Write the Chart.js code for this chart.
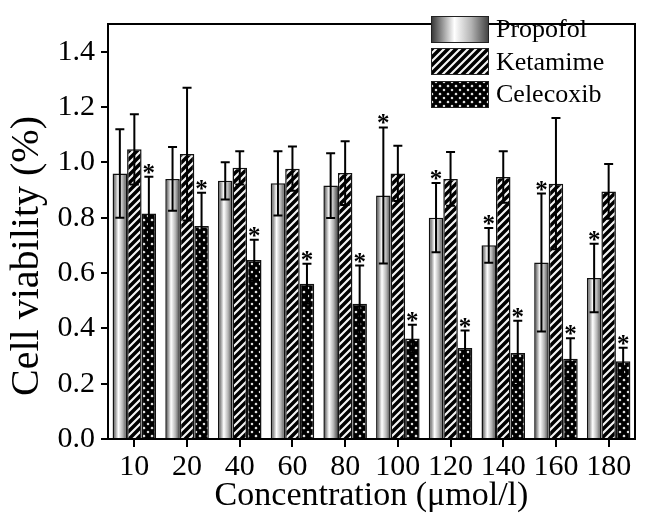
<!DOCTYPE html>
<html>
<head>
<meta charset="utf-8">
<script src="https://cdn.jsdelivr.net/npm/chart.js@4.4.0/dist/chart.umd.min.js"></script>
<style>
  body { margin: 0; background: #fff; }
  #wrap { position: relative; width: 646px; height: 525px; }
  #legend {
    position: absolute; left: 431px; top: 13px;
    font-family: "Liberation Serif", "Times New Roman", serif; font-size: 26px; color: #000;
  }
  .row { display: flex; align-items: center; height: 32.5px; }
  .row canvas { border: 1.5px solid #222; margin-right: 7px; display: block; }
</style>
</head>
<body>
<div id="wrap">
  <canvas id="chart" width="646" height="525"></canvas>
  <div id="legend"></div>
</div>
<script>
const concentrations = ["10", "20", "40", "60", "80", "100", "120", "140", "160", "180"];
const propofolMean = [0.96, 0.94, 0.933, 0.924, 0.916, 0.88, 0.80, 0.70, 0.638, 0.582];
const propofolSd = [0.16, 0.115, 0.067, 0.116, 0.117, 0.246, 0.125, 0.063, 0.249, 0.124];
const ketamimeMean = [1.047, 1.03, 0.98, 0.977, 0.961, 0.96, 0.94, 0.947, 0.923, 0.895];
const ketamimeSd = [0.127, 0.24, 0.06, 0.08, 0.115, 0.10, 0.097, 0.093, 0.237, 0.099];
const celecoxibMean = [0.815, 0.77, 0.647, 0.561, 0.489, 0.363, 0.329, 0.311, 0.29, 0.281];
const celecoxibSd = [0.133, 0.12, 0.073, 0.072, 0.138, 0.05, 0.063, 0.116, 0.074, 0.049];
const propofolStar = [false, false, false, false, false, true, true, true, true, true];
const ketamimeStar = [false, false, false, false, false, false, false, false, false, false];
const celecoxibStar = [true, true, true, true, true, true, true, true, true, true];
const yTicks = [0, 0.2, 0.4, 0.6, 0.8, 1.0, 1.2, 1.4];

const serif = '"Liberation Serif", "Times New Roman", serif';
const catPct = 0.826;
const scratch = document.createElement("canvas").getContext("2d");

function shadeGradient(g, x0, x1) {
  const grad = g.createLinearGradient(x0, 0, x1, 0);
  grad.addColorStop(0, "#3a3a3a");
  grad.addColorStop(0.4, "#ffffff");
  grad.addColorStop(0.7, "#b4b4b4");
  grad.addColorStop(1, "#454545");
  return grad;
}

function stripePattern() {
  const tile = document.createElement("canvas");
  tile.width = 8;
  tile.height = 8;
  const g = tile.getContext("2d");
  g.fillStyle = "#f4f4f4";
  g.fillRect(0, 0, 8, 8);
  g.strokeStyle = "#000";
  g.lineWidth = 3.5;
  g.beginPath();
  g.moveTo(-2, 10); g.lineTo(10, -2);
  g.moveTo(-2, 2); g.lineTo(2, -2);
  g.moveTo(6, 10); g.lineTo(10, 6);
  g.stroke();
  return scratch.createPattern(tile, "repeat");
}

function crossPattern() {
  const tile = document.createElement("canvas");
  tile.width = 8;
  tile.height = 8;
  const g = tile.getContext("2d");
  g.fillStyle = "#fff";
  g.fillRect(0, 0, 8, 8);
  g.strokeStyle = "#000";
  g.lineWidth = 3.6;
  g.beginPath();
  g.moveTo(-1, -1); g.lineTo(9, 9);
  g.moveTo(9, -1); g.lineTo(-1, 9);
  g.stroke();
  return scratch.createPattern(tile, "repeat");
}

const stripes = stripePattern();
const crosses = crossPattern();

function propofolFill(ctx) {
  const xs = ctx.chart.scales.x;
  if (ctx.type !== "data" || !xs) return "#bbb";
  const slot = (xs.width / concentrations.length) * catPct / 3;
  const centre = xs.getPixelForValue(ctx.dataIndex) - slot;
  if (!Number.isFinite(centre) || !(slot > 0)) return "#bbb";
  return shadeGradient(ctx.chart.ctx, centre - slot / 2, centre + slot / 2);
}

const means = [propofolMean, ketamimeMean, celecoxibMean];
const sds = [propofolSd, ketamimeSd, celecoxibSd];
const stars = [propofolStar, ketamimeStar, celecoxibStar];

const errorBars = {
  id: "errorBars",
  afterDatasetsDraw(chart) {
    const g = chart.ctx;
    const y = chart.scales.y;
    g.save();
    g.strokeStyle = "#000";
    g.fillStyle = "#000";
    g.lineWidth = 2;
    g.font = "bold 25px " + serif;
    g.textAlign = "center";
    g.textBaseline = "alphabetic";
    means.forEach((series, ds) => {
      chart.getDatasetMeta(ds).data.forEach((bar, i) => {
        const top = y.getPixelForValue(series[i] + sds[ds][i]);
        const bottom = y.getPixelForValue(series[i] - sds[ds][i]);
        g.beginPath();
        g.moveTo(bar.x, bottom); g.lineTo(bar.x, top);
        g.moveTo(bar.x - 4.5, top); g.lineTo(bar.x + 4.5, top);
        g.moveTo(bar.x - 4.5, bottom); g.lineTo(bar.x + 4.5, bottom);
        g.stroke();
        if (stars[ds][i]) g.fillText("*", bar.x, top + 4);
      });
    });
    g.restore();
  },
};

const frame = {
  id: "frame",
  afterDraw(chart) {
    const { left, right, top, bottom } = chart.chartArea;
    const g = chart.ctx;
    g.save();
    g.strokeStyle = "#000";
    g.lineWidth = 2;
    g.beginPath();
    g.moveTo(left, top); g.lineTo(right, top); g.lineTo(right, bottom);
    g.stroke();
    g.restore();
  },
};

const yTitle = {
  id: "yTitle",
  afterDraw(chart) {
    const g = chart.ctx;
    g.save();
    g.translate(27, 256);
    g.rotate(-Math.PI / 2);
    g.font = "40px " + serif;
    g.fillStyle = "#000";
    g.textAlign = "center";
    g.textBaseline = "middle";
    g.fillText("Cell viability (%)", 0, 0);
    g.restore();
  },
};

new Chart(document.getElementById("chart"), {
  type: "bar",
  data: {
    labels: concentrations,
    datasets: [
      { label: "Propofol", data: propofolMean, backgroundColor: propofolFill },
      { label: "Ketamime", data: ketamimeMean, backgroundColor: stripes },
      { label: "Celecoxib", data: celecoxibMean, backgroundColor: crosses },
    ],
  },
  options: {
    responsive: false,
    animation: false,
    layout: { padding: { top: 11, right: 11, left: 0, bottom: 0 } },
    datasets: {
      bar: { categoryPercentage: catPct, barPercentage: 1, borderWidth: 1.5, borderColor: "#111" },
    },
    plugins: { legend: { display: false }, tooltip: { enabled: false } },
    scales: {
      x: {
        afterFit(scale) { scale.height = 86; },
        grid: { offset: false, drawOnChartArea: false, tickLength: 8, lineWidth: 2, color: "#000" },
        border: { color: "#000", width: 2 },
        ticks: { color: "#000", padding: 2, font: { family: serif, size: 30 } },
        title: {
          display: true,
          text: "Concentration (μmol/l)",
          color: "#000",
          font: { family: serif, size: 34 },
          padding: { top: 0, bottom: 9 },
        },
      },
      y: {
        min: 0,
        max: 1.5,
        afterFit(scale) { scale.width = 108; },
        afterBuildTicks(scale) { scale.ticks = yTicks.map((value) => ({ value })); },
        grid: { drawOnChartArea: false, tickLength: 7, lineWidth: 2, color: "#000" },
        border: { color: "#000", width: 2 },
        ticks: {
          color: "#000",
          padding: 6,
          font: { family: serif, size: 30 },
          callback: (value) => Number(value).toFixed(1),
        },
      },
    },
  },
  plugins: [errorBars, frame, yTitle],
});

// legend swatches reuse the same fills as the bars
const legendItems = [
  { name: "Propofol", fill: (g, w) => shadeGradient(g, 0, w) },
  { name: "Ketamime", fill: () => stripes },
  { name: "Celecoxib", fill: () => crosses },
];
const legend = document.getElementById("legend");
legendItems.forEach((item) => {
  const row = document.createElement("div");
  row.className = "row";
  const swatch = document.createElement("canvas");
  swatch.width = 56;
  swatch.height = 25;
  const g = swatch.getContext("2d");
  g.fillStyle = item.fill(g, 56);
  g.fillRect(0, 0, 56, 25);
  const label = document.createElement("span");
  label.textContent = item.name;
  row.appendChild(swatch);
  row.appendChild(label);
  legend.appendChild(row);
});
</script>
</body>
</html>
